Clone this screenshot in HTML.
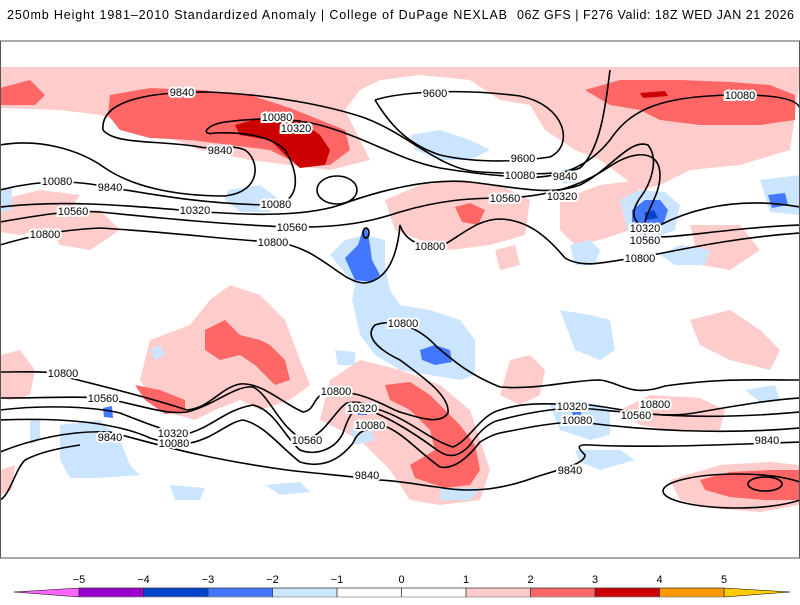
<!DOCTYPE html>
<html><head><meta charset="utf-8">
<style>
html,body{margin:0;padding:0;background:#fff;}
body{width:800px;height:600px;overflow:hidden;font-family:"Liberation Sans",sans-serif;}
svg text{font-family:"Liberation Sans",sans-serif;}
</style></head>
<body>
<svg width="800" height="600" viewBox="0 0 800 600">
<text x="7" y="19" font-size="12.5" textLength="500" lengthAdjust="spacing" fill="#000">250mb Height 1981–2010 Standardized Anomaly | College of DuPage NEXLAB</text>
<text x="517" y="19" font-size="12.5" textLength="277" lengthAdjust="spacing" fill="#000">06Z GFS | F276 Valid: 18Z WED JAN 21 2026</text>

<g>
<rect x="0.5" y="41" width="799" height="517" fill="#fff" stroke="#555"/>
<clipPath id="mc"><rect x="1" y="67" width="798" height="470"/></clipPath>
<g clip-path="url(#mc)">
 <g fill="#ffcccc">
  <path d="M0,67 L800,67 L800,80 L790,150 L740,165 L690,170 L660,185 L640,190 L620,175 L600,160 L575,150 L545,130 L530,105 L500,100 L470,80 L420,75 L380,80 L360,90 L345,110 L360,140 L370,160 L330,170 L290,165 L250,160 L200,150 L150,130 L100,115 L60,110 L0,108 Z"/>
  <path d="M385,200 L420,185 L460,180 L500,185 L530,200 L525,235 L490,245 L450,250 L420,240 L395,230 Z"/>
  <path d="M495,250 L515,245 L520,265 L500,270 Z"/>
  <path d="M560,200 L600,185 L640,180 L630,230 L600,240 L575,245 L560,230 Z"/>
  <path d="M690,225 L740,225 L760,250 L730,270 L700,265 Z"/>
  <path d="M0,200 L40,190 L80,195 L60,225 L20,235 L0,232 Z"/>
  <path d="M40,215 L100,210 L120,230 L90,250 L60,245 Z"/>
  <path d="M140,380 L150,340 L190,325 L210,300 L230,285 L260,295 L285,320 L300,360 L310,385 L290,400 L260,410 L240,400 L215,410 L195,420 L160,410 Z"/>
  <path d="M320,420 L330,380 L360,360 L400,370 L440,385 L470,410 L480,440 L490,470 L480,500 L440,505 L410,500 L390,470 L360,440 L340,430 Z"/>
  <path d="M500,395 L510,360 L530,355 L545,370 L540,395 L520,405 Z"/>
  <path d="M620,410 L650,395 L700,398 L725,410 L720,430 L680,432 L640,425 Z"/>
  <path d="M690,320 L730,310 L760,330 L780,350 L770,370 L730,360 L700,345 Z"/>
  <path d="M670,480 L720,465 L770,462 L800,465 L800,505 L760,512 L710,508 L680,500 Z"/>
  <path d="M0,355 L20,350 L35,370 L30,395 L10,400 L0,398 Z"/>
  <path d="M0,470 L15,465 L12,490 L0,495 Z"/>
 </g>
 <g fill="#ff6666">
  <path d="M110,95 L150,88 L200,90 L250,95 L290,108 L320,120 L345,130 L350,150 L330,165 L300,165 L270,150 L230,145 L190,140 L150,138 L120,130 L108,115 Z"/>
  <path d="M0,88 L30,80 L45,95 L35,105 L0,105 Z"/>
  <path d="M585,90 L620,80 L680,80 L730,82 L770,85 L795,95 L795,120 L760,125 L700,125 L660,120 L640,110 L610,105 Z"/>
  <path d="M455,207 L470,203 L485,210 L478,225 L462,222 Z"/>
  <path d="M205,330 L225,320 L240,335 L260,340 L270,345 L285,360 L290,380 L275,385 L255,365 L240,355 L220,360 L205,350 Z"/>
  <path d="M135,385 L160,390 L185,400 L185,412 L165,414 L145,400 Z"/>
  <path d="M385,385 L410,382 L430,395 L445,410 L460,425 L475,445 L480,470 L470,485 L445,488 L415,478 L410,465 L435,450 L430,430 L410,410 L390,400 Z"/>
  <path d="M700,480 L730,472 L770,470 L800,470 L800,500 L765,500 L730,497 L705,490 Z"/>
 </g>
 <g fill="#cc0000">
  <path d="M235,125 L260,118 L300,120 L320,135 L330,150 L325,165 L300,168 L285,155 L270,140 L240,135 Z"/>
  <path d="M640,93 L665,91 L668,96 L643,98 Z"/>
 </g>
 <g fill="#cce5ff">
  <path d="M410,135 L440,130 L470,140 L490,150 L470,160 L440,160 L415,150 Z"/>
  <path d="M560,170 L575,168 L578,182 L563,184 Z"/>
  <path d="M228,190 L260,185 L280,200 L270,212 L240,212 L225,200 Z"/>
  <path d="M620,200 L640,190 L665,192 L680,205 L675,230 L650,240 L628,232 Z"/>
  <path d="M760,180 L800,175 L800,215 L770,212 Z"/>
  <path d="M330,255 L345,240 L365,235 L385,240 L385,265 L390,290 L400,305 L430,310 L460,320 L475,340 L475,375 L460,380 L430,375 L400,370 L375,355 L360,335 L352,300 L355,285 Z"/>
  <path d="M0,190 L12,188 L12,210 L0,212 Z"/>
  <path d="M335,350 L355,352 L355,365 L338,365 Z"/>
  <path d="M560,310 L590,315 L610,320 L615,350 L600,360 L575,350 Z"/>
  <path d="M570,245 L590,240 L600,250 L595,265 L575,265 Z"/>
  <path d="M660,255 L680,245 L710,250 L705,265 L675,265 Z"/>
  <path d="M745,390 L775,385 L780,400 L760,402 Z"/>
  <path d="M550,405 L580,400 L610,410 L610,435 L590,440 L560,430 Z"/>
  <path d="M575,450 L620,450 L635,460 L600,470 L580,462 Z"/>
  <path d="M60,425 L100,420 L120,440 L130,465 L140,475 L100,478 L70,478 L60,460 Z"/>
  <path d="M170,485 L205,488 L200,500 L175,500 Z"/>
  <path d="M265,485 L300,482 L310,492 L280,495 Z"/>
  <path d="M350,428 L370,425 L375,440 L355,445 Z"/>
  <path d="M150,350 L160,345 L165,355 L155,360 Z"/>
  <path d="M30,420 L40,420 L40,440 L30,445 Z"/>
  <path d="M440,488 L480,488 L470,500 L440,500 Z"/>
 </g>
 <g fill="#4477ff">
  <path d="M345,258 L358,245 L362,232 L367,228 L370,245 L372,260 L380,275 L372,282 L355,280 Z"/>
  <path d="M420,350 L435,345 L450,350 L452,362 L435,365 L422,360 Z"/>
  <path d="M632,210 L645,200 L660,200 L668,210 L663,225 L645,228 L632,222 Z"/>
  <path d="M768,195 L785,193 L788,205 L772,208 Z"/>
  <path d="M103,408 L112,406 L113,418 L104,417 Z"/>
  <path d="M357,408 L367,407 L367,415 L358,415 Z"/>
  <path d="M572,411 L580,410 L582,416 L573,416 Z"/>
 </g>
 <g fill="#0044cc">
  <path d="M644,213 L654,210 L658,218 L647,220 Z"/>
 </g>
</g>

<g clip-path="url(#mc)" fill="none" stroke="#000" stroke-width="1.6">
 <path d="M375,100 C400,92 460,88 520,96 C565,105 575,145 550,157 C510,163 470,162 440,155 C410,145 392,128 375,100"/>
 <path d="M103,130 C100,100 150,92 205,92 C270,94 330,106 365,118 C410,135 440,170 480,172 C520,174 560,176 580,168 C600,150 605,110 610,70"/>
 <path d="M0,145 C40,138 80,150 105,168 C130,185 170,196 225,196 C262,192 260,160 245,150 C228,143 210,150 200,147 C160,140 115,145 103,130"/>
 <path d="M0,190 C30,182 60,180 90,184 C140,192 200,205 276,205 C300,200 300,175 285,150 C270,135 240,132 215,133 C200,136 205,125 225,122 C260,117 300,118 330,128 C370,140 400,160 440,168 C470,173 500,176 520,177"/>
 <path d="M520,177 C560,180 590,165 610,140 C630,110 660,95 740,95 C780,95 800,100 800,110"/>
 <path d="M0,207 C60,200 120,205 180,210 C240,215 300,218 340,205 C380,190 430,178 470,182 C520,188 550,196 580,185 C610,170 630,138 648,145 C660,160 650,185 640,198 C625,220 640,230 660,225 C710,200 760,200 800,207"/>
 <path d="M0,222 C40,215 70,210 100,212 C160,218 230,225 290,227 C340,228 370,222 400,212 C440,200 470,198 505,198 C560,196 590,180 612,165 C635,150 660,150 660,175 C660,200 640,215 645,235 C660,242 720,228 800,225"/>
 <path d="M0,245 C30,236 60,230 100,228 C170,232 230,240 273,242 C320,246 340,283 365,283 C390,280 398,250 400,225 C405,240 420,250 447,243 C465,232 480,219 500,219 C530,220 550,240 565,258 C585,270 610,260 637,258 C680,250 730,238 800,233"/>
 <path d="M0,372 C30,372 55,370 70,378 C110,388 150,398 187,410 C210,408 220,388 240,384 C262,382 285,405 303,412 C318,410 310,392 335,391 C370,393 390,410 403,413 C420,418 440,425 448,413 C450,395 420,375 400,360 C375,348 365,335 375,325 C395,318 420,328 437,347 C455,362 470,375 500,387 C540,390 570,380 600,380 C620,382 630,398 665,386 C720,378 760,380 800,380"/>
 <path d="M0,398 C40,398 80,396 103,398 C140,405 165,415 187,412 C215,405 235,385 253,387 C270,395 280,430 305,440 C325,435 335,410 347,403 C360,400 368,405 380,410 C410,420 430,440 453,447 C470,440 480,415 500,410 C530,400 560,405 590,405 C630,410 660,420 700,412 C740,405 770,400 800,398"/>
 <path d="M0,410 C40,405 90,406 120,413 C150,425 170,433 190,433 C215,425 225,410 253,405 C275,410 285,438 300,450 C315,456 335,450 343,433 C348,418 352,410 360,408 C380,412 410,430 437,450 C448,458 458,458 470,445 C480,430 490,422 500,420 C530,412 555,408 580,408 C630,412 690,422 800,412"/>
 <path d="M0,420 C50,418 110,420 150,438 C170,444 180,445 190,443 C215,438 228,422 243,420 C265,425 280,447 300,462 C320,468 338,462 353,443 C358,432 362,428 387,427 C405,435 420,453 440,467 C455,470 470,455 480,442 C490,436 495,434 500,433 C530,427 555,422 580,422 C640,430 720,435 800,428"/>
 <path d="M0,452 C30,440 70,430 110,432 C160,445 200,458 287,470 C320,474 340,475 380,480 C410,482 425,486 437,487 C470,493 500,490 533,478 C555,470 585,465 585,455 C578,448 575,444 590,445 C650,448 720,445 800,442"/>
 <path d="M0,500 C10,495 15,470 25,460 C40,452 60,448 80,445"/>
 <ellipse cx="737" cy="491" rx="74" ry="17"/>
 <ellipse cx="765" cy="484" rx="17" ry="7"/>
 <ellipse cx="337" cy="190" rx="20" ry="14"/>
 <ellipse cx="366" cy="233" rx="3" ry="5"/>
</g>

<g font-size="11" fill="#000" text-anchor="middle" stroke="#fff" stroke-width="4" paint-order="stroke">
 <text x="182" y="96">9840</text><text x="220" y="154">9840</text><text x="110" y="191">9840</text>
 <text x="57" y="185">10080</text><text x="277" y="121">10080</text><text x="296" y="132">10320</text>
 <text x="276" y="208">10080</text><text x="195" y="214">10320</text><text x="73" y="215">10560</text>
 <text x="292" y="231">10560</text><text x="45" y="238">10800</text><text x="273" y="246">10800</text>
 <text x="435" y="97">9600</text><text x="523" y="162">9600</text><text x="520" y="179">10080</text>
 <text x="565" y="180">9840</text><text x="562" y="200">10320</text><text x="505" y="202">10560</text>
 <text x="430" y="250">10800</text><text x="645" y="232">10320</text><text x="645" y="244">10560</text>
 <text x="640" y="262">10800</text><text x="740" y="99">10080</text><text x="403" y="327">10800</text>
 <text x="63" y="377">10800</text><text x="103" y="402">10560</text><text x="173" y="437">10320</text>
 <text x="174" y="447">10080</text><text x="110" y="441">9840</text><text x="336" y="395">10800</text>
 <text x="362" y="412">10320</text><text x="370" y="429">10080</text><text x="307" y="444">10560</text>
 <text x="367" y="479">9840</text><text x="572" y="410">10320</text><text x="577" y="424">10080</text>
 <text x="655" y="408">10800</text><text x="636" y="419">10560</text><text x="767" y="444">9840</text>
 <text x="570" y="474">9840</text>
</g>
</g>

<g font-size="11" text-anchor="middle">
 <polygon points="14,592 79,588 79,597" fill="#ff66ff" stroke="#000" stroke-width="0.5"/>
 <polygon points="724,588 790,592 724,597" fill="#ffcc00" stroke="#000" stroke-width="0.5"/>
 <rect x="79" y="588" width="64.5" height="9" fill="#9900cc"/>
 <rect x="143.5" y="588" width="64.5" height="9" fill="#0044cc"/>
 <rect x="208" y="588" width="64.5" height="9" fill="#4477ff"/>
 <rect x="272.5" y="588" width="64.5" height="9" fill="#cce5ff"/>
 <rect x="337" y="588" width="64.5" height="9" fill="#ffffff"/>
 <rect x="401.5" y="588" width="64.5" height="9" fill="#ffffff"/>
 <rect x="466" y="588" width="64.5" height="9" fill="#ffcccc"/>
 <rect x="530.5" y="588" width="64.5" height="9" fill="#ff6666"/>
 <rect x="595" y="588" width="64.5" height="9" fill="#cc0000"/>
 <rect x="659.5" y="588" width="64.5" height="9" fill="#ff9900"/>
 <g stroke="#333" stroke-width="0.8">
  <line x1="79" y1="588" x2="724" y2="588"/><line x1="79" y1="597" x2="724" y2="597" stroke="#888"/>
  <line x1="79" y1="588" x2="79" y2="597"/><line x1="143.5" y1="588" x2="143.5" y2="597"/>
  <line x1="208" y1="588" x2="208" y2="597"/><line x1="272.5" y1="588" x2="272.5" y2="597"/>
  <line x1="337" y1="588" x2="337" y2="597"/><line x1="401.5" y1="588" x2="401.5" y2="597"/>
  <line x1="466" y1="588" x2="466" y2="597"/><line x1="530.5" y1="588" x2="530.5" y2="597"/>
  <line x1="595" y1="588" x2="595" y2="597"/><line x1="659.5" y1="588" x2="659.5" y2="597"/>
  <line x1="724" y1="588" x2="724" y2="597"/>
 </g>
 <g>
  <text x="79" y="583">−5</text><text x="143.5" y="583">−4</text><text x="208" y="583">−3</text>
  <text x="272.5" y="583">−2</text><text x="337" y="583">−1</text><text x="401.5" y="583">0</text>
  <text x="466" y="583">1</text><text x="530.5" y="583">2</text><text x="595" y="583">3</text>
  <text x="659.5" y="583">4</text><text x="724" y="583">5</text>
 </g>
</g>
</svg>
</body></html>
